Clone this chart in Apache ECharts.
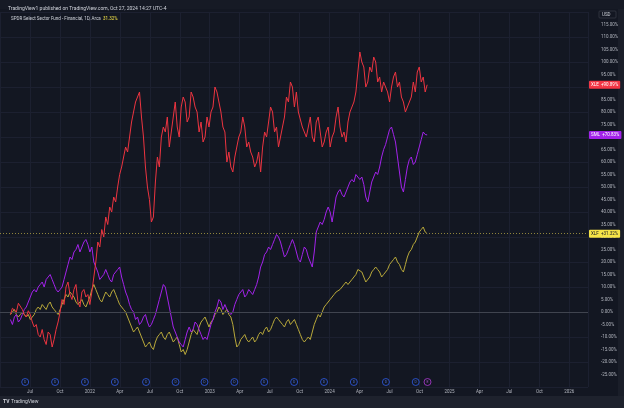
<!DOCTYPE html>
<html><head><meta charset="utf-8">
<script src="https://cdn.jsdelivr.net/npm/echarts@6/dist/echarts.min.js"></script>
<style>html,body{margin:0;padding:0;background:#131722}#c{width:624px;height:408px}</style>
</head><body><div id="c"></div>
<script>
// Data (percent change since start), sampled about every 6 days from 2021-05-04 to 2024-10-25
const startDate = '2021-05-04';
const endDate = '2024-10-25';
const xle = [-1,1.5,2,0,3.5,4,1,-1,-2,0.5,-1,-4,-6,-5,-9,-10,-7,-11,-13,-8,-9,-14,-11,-7,-4,0,5,3,10,12,7,5,9,11,4,2,8,9,6,7,3,8,14,20,28,26,33,30,38,35,42,40,46,44,50,55,58,62,66,64,70,76,80,84,86,88,78,70,58,50,45,36,38,52,62,58,70,74,72,78,66,72,78,84,74,70,82,86,84,76,78,88,86,82,80,72,76,68,70,78,74,80,82,90,88,84,80,74,72,60,64,58,56,62,66,70,72,78,74,66,68,64,62,58,60,64,56,66,72,70,76,82,80,72,74,66,70,74,78,86,84,92,90,82,88,80,80,74,72,70,74,78,70,68,76,78,72,66,68,72,74,66,70,72,78,82,74,70,72,68,76,80,80,84,88,96,104,100,98,90,92,98,96,102,100,92,94,88,92,90,88,84,90,94,96,90,92,86,84,80,80,84,86,92,88,96,98,92,94,88,90.89];
const sml = [-3,-5,-2,-1,-4,-3,-1,1,2,4,6,8,9,8,10,11,12,10,13,14,15,13,11,9,8,9,10,13,16,19,22,21,24,25,27,24,26,28,29,27,24,26,20,18,16,13,14,15,17,15,13,12,15,16,17,18,14,11,8,6,3,1,0,-3,-2,-5,-4,-2,-1,-4,-6,-5,-3,-1,2,5,8,11,10,6,2,-2,-6,-8,-10,-12,-13,-14,-11,-8,-6,-8,-7,-4,-5,-7,-9,-11,-10,-11,-8,-5,-3,0,2,5,4,1,3,1,0,-1,0,3,5,7,8,9,6,7,9,8,7,9,11,14,18,20,23,24,26,25,27,29,31,30,28,25,22,23,25,27,29,27,24,21,20,23,26,25,22,20,18,24,32,34,36,35,37,40,42,40,36,41,46,48,49,47,46,48,50,52,53,52,55,54,53,54,51,46,44,48,52,54,56,55,58,62,65,67,70,73,74,71,68,62,56,50,48,53,58,61,62,59,60,63,66,69,72,71,70.83];
const xlf = [-1,0,1,-1,-2,-1,0,-1,-2,-1,-3,-2,-1,1,2,1,3,2,1,3,4,2,1,0,-1,1,3,5,7,6,8,7,6,4,3,4,5,3,2,4,6,9,11,9,7,5,4,6,8,7,6,8,9,7,5,3,2,1,0,-2,-4,-6,-8,-7,-6,-8,-10,-12,-14,-13,-12,-14,-15,-12,-10,-9,-8,-10,-11,-9,-8,-10,-12,-11,-10,-13,-16,-15,-17,-15,-12,-9,-7,-8,-9,-6,-4,-3,-2,-4,-6,-4,-3,-1,0,2,1,-1,0,1,-1,-2,-5,-10,-14,-13,-11,-10,-9,-11,-12,-11,-10,-12,-11,-9,-8,-9,-7,-6,-8,-7,-5,-3,-2,-3,-4,-5,-6,-4,-3,-5,-4,-3,-5,-7,-9,-11,-12,-11,-10,-11,-8,-5,-3,-1,-2,0,2,3,4,5,6,7,8,8,9,10,10,12,11,12,13,14,15,17,17,16,14,12,12,14,16,17,18,17,16,14,15,16,17,19,20,21,22,20,19,17,16,19,22,24,25,27,28,30,32,33,34,32,31.32];
const dividendDates = ['2021-06-18','2021-09-17','2021-12-17','2022-03-18','2022-06-21','2022-09-19','2022-12-16','2023-03-17','2023-06-16','2023-09-15','2023-12-15','2024-03-15','2024-06-21','2024-09-20'];
const eventDates = ['2024-10-26'];
const yTicks = {min: -30, max: 120, step: 5};
const names = {xle: 'XLE', sml: 'SML', xlf: 'XLF'};

function fy(d) {
  const t = typeof d === 'number' ? d : Date.parse(d + 'T00:00:00Z');
  const y = new Date(t).getUTCFullYear();
  const a = Date.UTC(y, 0, 1), b = Date.UTC(y + 1, 0, 1);
  return y + (t - a) / (b - a);
}
const t0 = Date.parse(startDate + 'T00:00:00Z'), t1 = Date.parse(endDate + 'T00:00:00Z');
const pair = arr => arr.map((v, i) => [fy(t0 + (t1 - t0) * i / (arr.length - 1)), v]);
const last = arr => arr[arr.length - 1];
const fmtPct = v => (v >= 0 ? '+' : '') + v.toFixed(2) + '%';

const RED = '#ec3440', PUR = '#a222ea', YEL = '#b8a83a';
const MON = ['', 'Apr', 'Jul', 'Oct'];

function tag(val, name, bg, fg) {
  return {
    yAxis: val,
    label: {show: true, position: 'end', distance: 1, formatter: name + '  ' + fmtPct(val),
      backgroundColor: bg, color: fg, fontSize: 4.5, padding: [1.5, 2], borderRadius: 1, fontFamily: 'Roboto'}
  };
}

const chart = echarts.init(document.getElementById('c'), null, {renderer: 'canvas'});
chart.setOption({
  backgroundColor: '#131722',
  animation: false,
  title: [
    {text: 'TradingView1 published on TradingView.com, Oct 27, 2024 14:27 UTC-4', left: 3, top: 1,
     textStyle: {fontSize: 5, color: '#d1d4dc', fontWeight: 'normal', fontFamily: 'Roboto'}},
    {text: 'SPDR Select Sector Fund - Financial, 1D, Arca  {y|31.32%}', left: 6, top: 11,
     textStyle: {fontSize: 4.5, color: '#d1d4dc', fontWeight: 'normal', fontFamily: 'Roboto',
       rich: {y: {fontSize: 4.5, color: '#f5e447', fontFamily: 'Roboto'}}}}
  ],
  grid: {left: -8, right: 36, top: 12, bottom: 21, containLabel: false},
  xAxis: {
    type: 'value', min: 2021.25, max: 2026.156, interval: 0.25,
    axisLine: {show: false}, axisTick: {show: false},
    splitLine: {show: true, lineStyle: {color: '#1c2030', width: 1}},
    axisLabel: {
      color: '#b2b5be', fontSize: 4.5, margin: 2, fontFamily: 'Roboto', showMinLabel: false, showMaxLabel: false,
      formatter: v => { const q = Math.round((v - Math.floor(v + 1e-6)) * 4) % 4; return q === 0 ? String(Math.round(v)) : MON[q]; }
    }
  },
  yAxis: [
    {type: 'value', position: 'right', min: yTicks.min, max: yTicks.max, interval: yTicks.step,
     axisLine: {show: false}, axisTick: {show: false}, splitLine: {show: false},
     axisLabel: {color: '#b2b5be', fontSize: 4.5, margin: 13, align: 'left', fontFamily: 'Roboto',
       showMinLabel: false, showMaxLabel: false, formatter: v => v.toFixed(2) + '%'}},
    {type: 'value', position: 'right', min: yTicks.min, max: yTicks.max, interval: 10,
     axisLine: {show: false}, axisTick: {show: false}, axisLabel: {show: false},
     splitLine: {show: true, lineStyle: {color: '#1c2030', width: 1}}}
  ],
  series: [
    {type: 'line', name: names.xlf, data: pair(xlf), showSymbol: false, clip: false, z: 3,
     lineStyle: {color: YEL, width: 1}, itemStyle: {color: YEL},
     markLine: {symbol: 'none', silent: true, animation: false,
       data: [
         {yAxis: 0, lineStyle: {color: '#40444f', type: 'solid', width: 1}, label: {show: false}},
         Object.assign(tag(last(xlf), names.xlf, '#f5e447', '#131722'), {lineStyle: {color: '#8f843c', type: [1, 2], width: 1}})
       ]}},
    {type: 'line', name: names.sml, data: pair(sml), showSymbol: false, clip: false, z: 4,
     lineStyle: {color: PUR, width: 1}, itemStyle: {color: PUR},
     markLine: {symbol: 'none', silent: true, animation: false,
       data: [Object.assign(tag(last(sml), names.sml, '#a222ea', '#ffffff'), {lineStyle: {color: 'rgba(0,0,0,0)', width: 0}})]}},
    {type: 'line', name: names.xle, data: pair(xle), showSymbol: false, clip: false, z: 5,
     lineStyle: {color: RED, width: 1}, itemStyle: {color: RED},
     markLine: {symbol: 'none', silent: true, animation: false,
       data: [Object.assign(tag(last(xle), names.xle, '#f23645', '#ffffff'), {lineStyle: {color: 'rgba(0,0,0,0)', width: 0}})]}},
    {type: 'scatter', data: dividendDates.map(d => [fy(d), -28]), symbol: 'circle', symbolSize: 7, z: 6,
     itemStyle: {color: '#131722', borderColor: '#2f5de8', borderWidth: 1},
     label: {show: true, position: 'inside', formatter: 'D', fontSize: 3.5, color: '#5d84f5', fontFamily: 'Roboto'}},
    {type: 'scatter', data: eventDates.map(d => [fy(d), -28]), symbol: 'circle', symbolSize: 7, z: 6,
     itemStyle: {color: '#131722', borderColor: '#b23bd6', borderWidth: 1},
     label: {show: true, position: 'inside', formatter: 'E', fontSize: 3.5, color: '#d36af0', fontFamily: 'Roboto'}}
  ],
  graphic: [
    {type: 'rect', shape: {x: 0, y: 0, width: 624, height: 9}, style: {fill: '#161a25'}, z: 1, silent: true},
    {type: 'rect', shape: {x: 0, y: 396, width: 624, height: 12}, style: {fill: '#1e222d'}, z: 1, silent: true},
    {type: 'rect', shape: {x: 618, y: 9, width: 6, height: 387}, style: {fill: '#1a1e29'}, z: 1, silent: true},
    {type: 'text', x: 3, y: 399, style: {text: 'TV', fontSize: 5, fontWeight: 'bold', fill: '#d1d4dc', fontFamily: 'Roboto'}, z: 2},
    {type: 'text', x: 11, y: 399, style: {text: 'TradingView', fontSize: 5, fill: '#d1d4dc', fontFamily: 'Roboto'}, z: 2},
    {type: 'rect', shape: {x: 599, y: 11, width: 17, height: 7, r: 1}, style: {fill: '#131722', stroke: '#363a45', lineWidth: 0.8}, z: 2},
    {type: 'text', x: 602, y: 12.5, style: {text: 'USD', fontSize: 4.5, fill: '#d1d4dc', fontFamily: 'Roboto'}, z: 3}
  ]
});
</script></body></html>
